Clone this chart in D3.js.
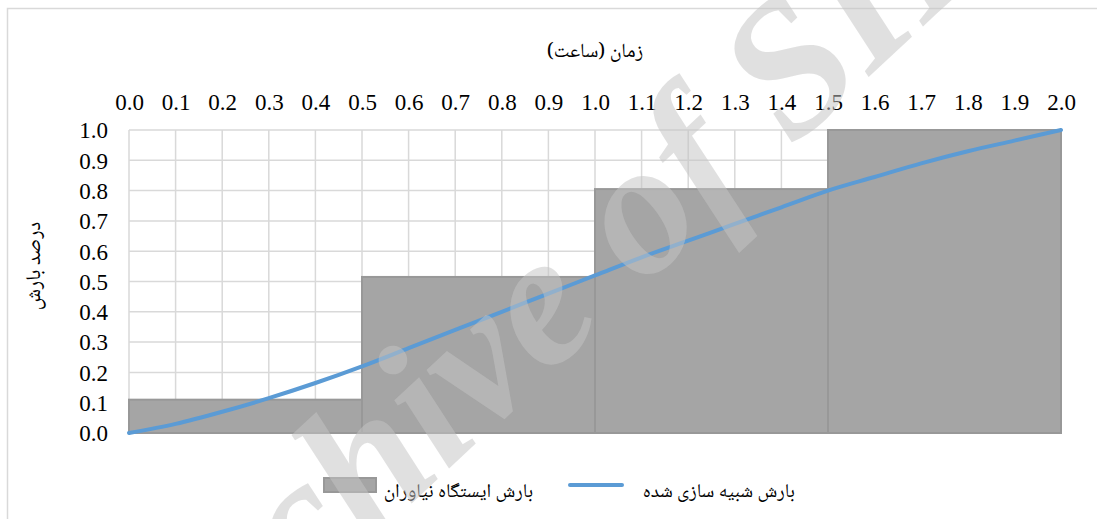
<!DOCTYPE html>
<html lang="fa">
    <head>
        <meta charset="utf-8">
        <title>Rainfall chart</title>
        <script src="https://d3js.org/d3.v7.min.js"></script>
        <style type="text/css">
            body { margin: 0; background: #fff; }
            .tick-label { font-family: "Liberation Serif", "Times New Roman", serif; font-size: 23px; fill: #000; }
            .fa { font-family: "Noto Naskh Arabic", "Noto Sans Arabic", "DejaVu Sans", sans-serif; fill: #000; }
        </style>
    </head>
    <body>
        <script type="text/javascript">

            // data
            var barStarts = [0.0, 0.5, 1.0, 1.5];
            var barEnds = [0.5, 1.0, 1.5, 2.0];
            var barValues = [0.11, 0.515, 0.805, 1.0];   // station rainfall (cumulative)

            var lineTimes = [0.0, 0.1, 0.2, 0.3, 0.4, 0.5, 0.6, 0.7, 0.8, 0.9, 1.0,
                             1.1, 1.2, 1.3, 1.4, 1.5, 1.6, 1.7, 1.8, 1.9, 2.0];
            var lineValues = [0.0, 0.03, 0.07, 0.115, 0.165, 0.22, 0.28, 0.34, 0.40, 0.46, 0.52,
                              0.58, 0.635, 0.69, 0.745, 0.80, 0.845, 0.89, 0.93, 0.965, 1.0];

            var xTicks = d3.range(0, 21).map(function(i) { return i / 10; });
            var yTicks = d3.range(0, 11).map(function(i) { return i / 10; });

            var xTitle = "زمان (ساعت)";
            var yTitle = "درصد بارش";
            var barName = "بارش ایستگاه نیاوران";
            var lineName = "بارش شبیه سازی شده";

            var W = 1097, H = 519;
            var plot = {left: 129, right: 1061, top: 130, bottom: 433};

            var svg = d3.select("body").append("svg")
                .attr("width", W)
                .attr("height", H);

            // chart frame
            svg.append("rect")
                .attr("x", 7.5).attr("y", 8.5)
                .attr("width", W + 20).attr("height", H + 20)
                .attr("fill", "#fff")
                .attr("stroke", "#d9d9d9")
                .attr("stroke-width", 1.5);

            var xScale = d3.scaleLinear().domain([0, 2]).range([plot.left, plot.right]);
            var yScale = d3.scaleLinear().domain([0, 1]).range([plot.bottom, plot.top]);

            // gridlines
            svg.append("g").selectAll("line.vg")
                .data(xTicks)
                .enter().append("line")
                .attr("x1", function(d) { return xScale(d); })
                .attr("x2", function(d) { return xScale(d); })
                .attr("y1", plot.top).attr("y2", plot.bottom)
                .attr("stroke", "#d9d9d9").attr("stroke-width", 1.5);

            svg.append("g").selectAll("line.hg")
                .data(yTicks)
                .enter().append("line")
                .attr("x1", plot.left).attr("x2", plot.right)
                .attr("y1", function(d) { return yScale(d); })
                .attr("y2", function(d) { return yScale(d); })
                .attr("stroke", "#d9d9d9").attr("stroke-width", 1.5);

            // x axis on top (labels only)
            var xAxis = d3.axisTop(xScale)
                .tickValues(xTicks)
                .tickFormat(d3.format(".1f"))
                .tickSize(0)
                .tickPadding(0);
            var gx = svg.append("g")
                .attr("transform", "translate(0,110)")
                .call(xAxis);
            gx.select(".domain").remove();
            gx.selectAll("text").attr("class", "tick-label").attr("dy", 0);
            gx.attr("font-family", null).attr("font-size", null);

            // y axis on left (labels only)
            var yAxis = d3.axisLeft(yScale)
                .tickValues(yTicks)
                .tickFormat(d3.format(".1f"))
                .tickSize(0)
                .tickPadding(21);
            var gy = svg.append("g")
                .attr("transform", "translate(" + plot.left + ",0)")
                .call(yAxis);
            gy.select(".domain").remove();
            gy.selectAll("text").attr("class", "tick-label").attr("dy", "0.34em");
            gy.attr("font-family", null).attr("font-size", null);

            // bars
            svg.append("g").selectAll("rect")
                .data(barValues)
                .enter().append("rect")
                .attr("x", function(d, i) { return xScale(barStarts[i]); })
                .attr("width", function(d, i) { return xScale(barEnds[i]) - xScale(barStarts[i]); })
                .attr("y", function(d) { return yScale(d); })
                .attr("height", function(d) { return yScale(0) - yScale(d); })
                .attr("fill", "#a5a5a5")
                .attr("stroke", "#989898")
                .attr("stroke-width", 2);

            // simulated line
            var line = d3.line()
                .x(function(d, i) { return xScale(lineTimes[i]); })
                .y(function(d) { return yScale(d); })
                .curve(d3.curveMonotoneX);
            svg.append("path")
                .datum(lineValues)
                .attr("d", line)
                .attr("fill", "none")
                .attr("stroke", "#5b9bd5")
                .attr("stroke-width", 4)
                .attr("stroke-linecap", "round");

            // titles
            svg.append("text")
                .attr("class", "fa")
                .attr("x", (plot.left + plot.right) / 2)
                .attr("y", 57)
                .attr("direction", "rtl")
                .attr("text-anchor", "middle")
                .style("font-size", "20px")
                .text(xTitle);

            svg.append("text")
                .attr("class", "fa")
                .attr("transform", "translate(40,266) rotate(-90)")
                .attr("direction", "rtl")
                .attr("text-anchor", "middle")
                .style("font-size", "21px")
                .text(yTitle);

            // legend
            var legend = svg.append("g");
            legend.append("rect")
                .attr("x", 324).attr("y", 478)
                .attr("width", 52).attr("height", 14)
                .attr("fill", "#a5a5a5")
                .attr("stroke", "#989898").attr("stroke-width", 2);
            legend.append("text")
                .attr("class", "fa")
                .attr("x", 533).attr("y", 497)
                .attr("direction", "rtl")
                .attr("text-anchor", "start")
                .style("font-size", "19.5px")
                .text(barName);
            legend.append("line")
                .attr("x1", 570).attr("x2", 622)
                .attr("y1", 485).attr("y2", 485)
                .attr("stroke", "#5b9bd5").attr("stroke-width", 4)
                .attr("stroke-linecap", "round");
            legend.append("text")
                .attr("class", "fa")
                .attr("x", 795).attr("y", 497)
                .attr("direction", "rtl")
                .attr("text-anchor", "start")
                .style("font-size", "19.5px")
                .text(lineName);

            // watermark
            svg.append("text")
                .attr("transform", "translate(592,335) rotate(-43)")
                .attr("text-anchor", "middle")
                .style("font-family", "'Liberation Serif', serif")
                .style("font-style", "italic")
                .style("font-weight", "bold")
                .style("font-size", "190px")
                .style("fill", "rgb(195,195,195)")
                .style("fill-opacity", 0.52)
                .text("Archive of SID");
        </script>
    </body>
</html>
